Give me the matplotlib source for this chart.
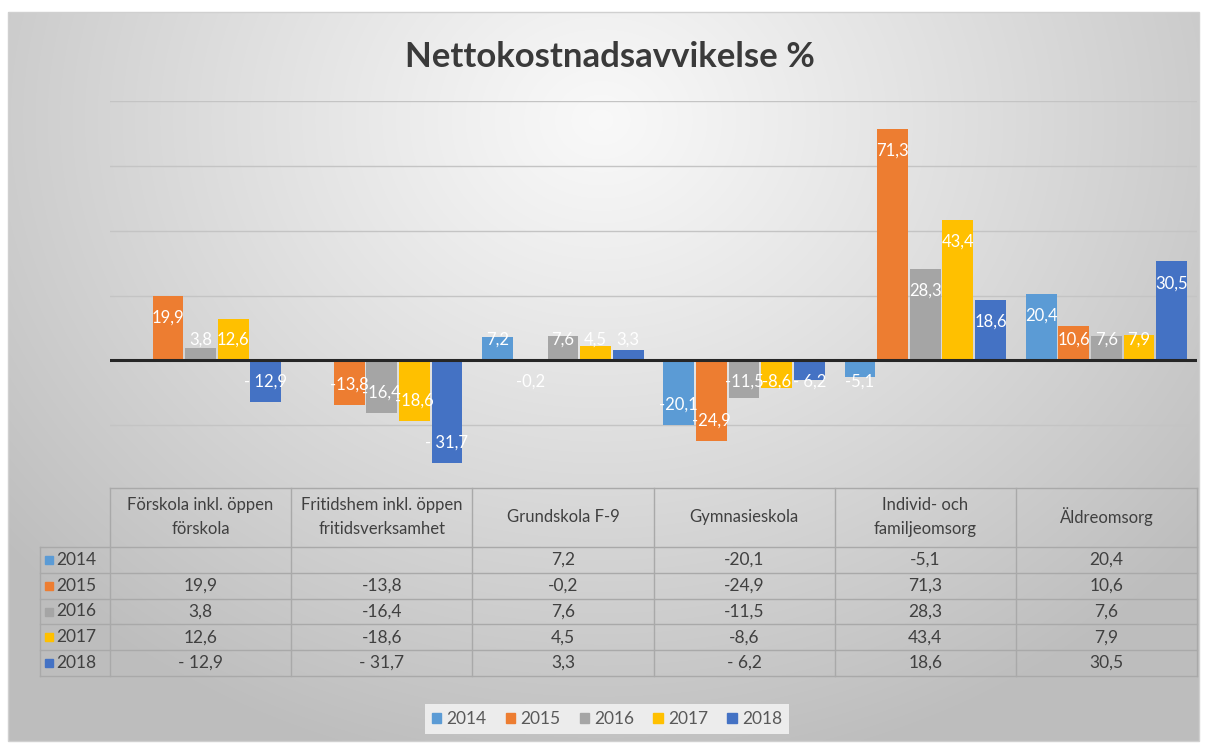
import numpy as np
import matplotlib
matplotlib.use('Agg')
import matplotlib.pyplot as plt
from matplotlib.patches import Rectangle, Patch

plt.rcParams['font.family'] = ['Lato', 'DejaVu Sans']

# ---------------------------------------------------------------------------
# data
# ---------------------------------------------------------------------------
categories = ["Förskola inkl. öppen\nförskola",
              "Fritidshem inkl. öppen\nfritidsverksamhet",
              "Grundskola F-9",
              "Gymnasieskola",
              "Individ- och\nfamiljeomsorg",
              "Äldreomsorg"]
years = ["2014", "2015", "2016", "2017", "2018"]
v2014 = [np.nan, np.nan, 7.2, -20.1, -5.1, 20.4]
v2015 = [19.9, -13.8, -0.2, -24.9, 71.3, 10.6]
v2016 = [3.8, -16.4, 7.6, -11.5, 28.3, 7.6]
v2017 = [12.6, -18.6, 4.5, -8.6, 43.4, 7.9]
v2018 = [-12.9, -31.7, 3.3, -6.2, 18.6, 30.5]
series = [v2014, v2015, v2016, v2017, v2018]
colors = ['#5B9BD5', '#ED7D31', '#A5A5A5', '#FFC000', '#4472C4']

W, H = 1206, 745


def fmt(v, spaced=False):
    if np.isnan(v):
        return ""
    s = f"{v:.1f}".replace('.', ',')
    if spaced and v < 0:
        s = "- " + s[1:]
    return s


fig = plt.figure(figsize=(W / 100, H / 100), dpi=100)

# background: gradient panel in pixel coords
bg = fig.add_axes([0, 0, 1, 1], zorder=0)
bg.set_xlim(0, W)
bg.set_ylim(H, 0)
bg.axis('off')
yy, xx = np.mgrid[0:H, 0:W]
r = np.sqrt(((xx - 600) / 720.0) ** 2 + ((yy - 110) / 620.0) ** 2)
shade = 0.975 - 0.21 * np.clip(r, 0, 1.1) ** 1.1
img = np.dstack([shade, shade, shade])
bg.imshow(img, extent=(8, 1199, 741, 12), aspect='auto', zorder=0)
bg.add_patch(Rectangle((8, 12), 1191, 729, fill=False, ec='#d0d0d0', lw=1, zorder=1))

# ---------------------------------------------------------------------------
# bar chart
# ---------------------------------------------------------------------------
L, R, T, B = 110, 1197, 101, 490
ax = fig.add_axes([L / W, 1 - B / H, (R - L) / W, (B - T) / H], zorder=2)
ax.patch.set_alpha(0)
x = np.arange(len(categories))
step, bw = 0.18, 0.17
for i, (vals, c) in enumerate(zip(series, colors)):
    pos = x + (i - 2) * step
    ax.bar(pos, vals, width=bw, color=c, zorder=3)
    for px, v in zip(pos, vals):
        if np.isnan(v):
            continue
        # label just inside the bar end, pushed off the axis for short bars
        ly = max(v - 6.7, 6.5) if v >= 0 else min(v + 6.3, -6.5)
        ax.text(px, ly, fmt(v, spaced=(i == 4)), ha='center', va='center',
                color='white', fontsize=12, zorder=4)

ax.set_xlim(-0.5, len(categories) - 0.5)
ax.set_ylim(-40, 80)
ax.set_yticks([-20, 20, 40, 60, 80])
ax.yaxis.grid(True, color='#c4c4c4', lw=1)
ax.set_axisbelow(True)
ax.axhline(0, color='#262626', lw=2.2, zorder=5)
ax.set_xticks([])
ax.tick_params(left=False, labelleft=False)
for s in ax.spines.values():
    s.set_visible(False)

fig.text(610 / W, 1 - 57 / H, "Nettokostnadsavvikelse %", ha='center', va='center',
         fontsize=25, fontweight='bold', color='#3a3a3a')

# ---------------------------------------------------------------------------
# data table (pixel coordinates on the background axes)
# ---------------------------------------------------------------------------
lc = '#a9a9a9'
tc = '#404040'
col_edges = np.linspace(L, R, len(categories) + 1)
row_edges = [547 + 25.8 * k for k in range(len(years) + 1)]
bg.plot([L, R], [488, 488], color=lc, lw=1, zorder=2)
for ry in row_edges:
    bg.plot([40, R], [ry, ry], color=lc, lw=1, zorder=2)
for cx in col_edges:
    bg.plot([cx, cx], [488, row_edges[-1]], color=lc, lw=1, zorder=2)
bg.plot([40, 40], [row_edges[0], row_edges[-1]], color=lc, lw=1, zorder=2)

for j, cat in enumerate(categories):
    cx = (col_edges[j] + col_edges[j + 1]) / 2
    bg.text(cx, 517, cat, ha='center', va='center', fontsize=12, color=tc,
            linespacing=1.55, zorder=3)

for i, (yr, vals, c) in enumerate(zip(years, series, colors)):
    cy = (row_edges[i] + row_edges[i + 1]) / 2
    bg.add_patch(Rectangle((45, cy - 4), 8, 8, color=c, zorder=3))
    bg.text(56, cy, yr, ha='left', va='center', fontsize=12.5, color=tc, zorder=3)
    for j, v in enumerate(vals):
        cx = (col_edges[j] + col_edges[j + 1]) / 2
        bg.text(cx, cy, fmt(v, spaced=(i == 4)), ha='center', va='center',
                fontsize=12.5, color=tc, zorder=3)

# legend
handles = [Patch(color=c, label=y) for c, y in zip(colors, years)]
fig.legend(handles=handles, loc='center', bbox_to_anchor=(607 / W, 1 - 719 / H),
           ncol=5, frameon=True, facecolor='#ececec', edgecolor='none', framealpha=1,
           fontsize=12.5, handlelength=0.55, handleheight=0.55, handletextpad=0.3,
           columnspacing=1.1, labelcolor='#595959', fancybox=False)

fig.savefig("out.png", dpi=100)
